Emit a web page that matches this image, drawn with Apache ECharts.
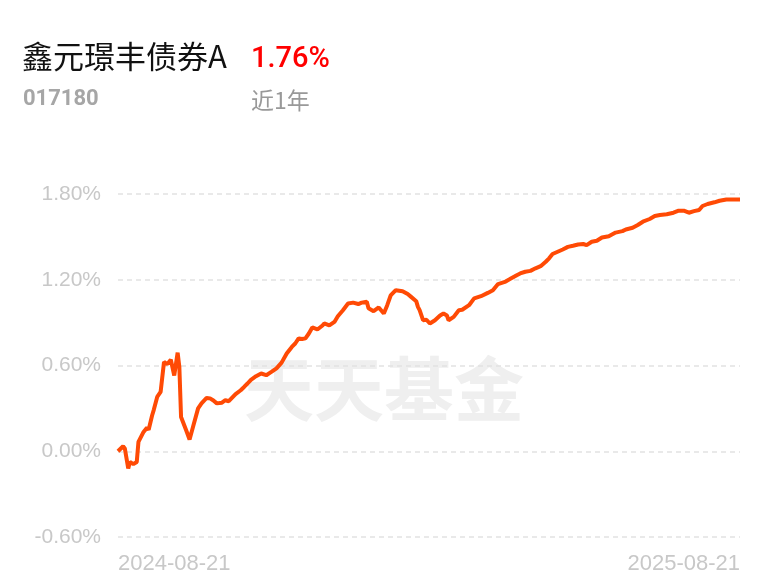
<!DOCTYPE html>
<html>
<head>
<meta charset="utf-8">
<script src="https://cdn.jsdelivr.net/npm/echarts@6/dist/echarts.min.js"></script>
<style>
html,body{margin:0;padding:0;background:#fff;}
#chart{width:768px;height:587px;}
</style>
</head>
<body>
<div id="chart"></div>
<script>
// Fund info
var fundName = '鑫元璟丰债券A';
var fundCode = '017180';
var periodReturn = '1.76%';
var periodLabel = '近1年';
var watermark = '天天基金';

// X tick labels (start / end date)
var xTickLabels = ['2024-08-21', '2025-08-21'];
var totalDays = 365;

// Days since 2024-08-21
var dayOffsets = [0,3,4,6,7,9,11,12,15,17,18,20,21,23,25,27,29,31,32,33,35,36,37,40,42,44,47,49,52,54,56,58,61,63,65,69,72,74,76,78,81,84,87,90,93,96,99,102,104,106,108,110,112,114,117,120,121,124,127,129,132,135,138,141,143,146,147,150,153,156,158,160,163,164,167,170,172,175,176,177,179,181,183,186,189,191,193,194,197,200,202,206,209,213,217,220,223,227,230,234,236,239,242,245,248,251,253,255,258,261,264,267,270,273,275,278,281,284,288,292,296,298,302,305,308,312,315,318,322,326,329,332,335,338,341,343,346,350,353,357,361,365];
// Cumulative return (%)
var returnValues = [0.00,0.035,0.02,-0.12,-0.075,-0.09,-0.075,0.065,0.135,0.165,0.15,0.25,0.29,0.38,0.415,0.625,0.61,0.64,0.635,0.53,0.69,0.59,0.24,0.147,0.082,0.17,0.30,0.335,0.373,0.37,0.355,0.335,0.34,0.357,0.35,0.40,0.427,0.45,0.474,0.50,0.525,0.544,0.532,0.555,0.58,0.62,0.684,0.73,0.754,0.79,0.785,0.79,0.824,0.866,0.852,0.88,0.894,0.88,0.905,0.945,0.987,1.034,1.04,1.03,1.04,1.046,1.00,0.98,1.006,0.964,1.022,1.09,1.127,1.115,1.12,1.10,1.08,1.05,1.01,0.987,0.917,0.92,0.894,0.917,0.95,0.964,0.95,0.917,0.94,0.987,0.99,1.022,1.07,1.085,1.108,1.127,1.17,1.185,1.205,1.232,1.244,1.256,1.262,1.28,1.295,1.326,1.35,1.38,1.396,1.412,1.43,1.438,1.447,1.45,1.442,1.466,1.473,1.496,1.505,1.53,1.54,1.552,1.564,1.583,1.606,1.625,1.646,1.653,1.658,1.669,1.683,1.683,1.669,1.68,1.688,1.716,1.73,1.742,1.753,1.762,1.762,1.762];

// Y axis ticks
var yMin = -0.6, yMax = 1.8, yStep = 0.6;

var seriesData = dayOffsets.map(function (d, i) { return [d, returnValues[i]]; });

var chart = echarts.init(document.getElementById('chart'), null, {renderer: 'canvas'});
chart.setOption({
  animation: false,
  backgroundColor: '#ffffff',
  title: [
    {text: fundName, left: 17, top: 36, textStyle: {fontSize: 31, fontWeight: 'normal', color: '#111111', fontFamily: 'Noto Sans CJK SC'}},
    {text: periodReturn, left: 246, top: 40, textStyle: {fontSize: 29, fontWeight: 500, color: '#ff0000', fontFamily: 'Roboto'}},
    {text: fundCode, left: 18, top: 83, textStyle: {fontSize: 22, fontWeight: 'bold', color: '#a6a6a6', fontFamily: 'Roboto'}},
    {text: periodLabel, left: 246, top: 84, textStyle: {fontSize: 23, fontWeight: 'normal', color: '#999999', fontFamily: 'Noto Sans CJK SC'}}
  ],
  graphic: [{
    type: 'text', left: 'center', top: 354, z: 0, silent: true,
    style: {text: watermark, fontSize: 70, fontWeight: 'bold', fill: '#efefef', fontFamily: 'Noto Sans CJK SC'}
  }],
  grid: {left: 118, right: 28, top: 194, bottom: 50, containLabel: false},
  xAxis: {
    type: 'value', min: 0, max: totalDays, interval: totalDays,
    axisLine: {show: false}, axisTick: {show: false}, splitLine: {show: false},
    axisLabel: {
      margin: 16, color: '#c8c8c8', fontSize: 22, fontFamily: 'Liberation Sans',
      alignMinLabel: 'left', alignMaxLabel: 'right',
      formatter: function (v) { return v === 0 ? xTickLabels[0] : (v === totalDays ? xTickLabels[1] : ''); }
    }
  },
  yAxis: {
    type: 'value', min: yMin, max: yMax, interval: yStep,
    axisLine: {show: false}, axisTick: {show: false},
    splitLine: {show: true, lineStyle: {color: '#e2e2e2', width: 1.5, type: [5, 4]}},
    axisLabel: {
      margin: 17, color: '#c8c8c8', fontSize: 21, fontFamily: 'Liberation Sans',
      formatter: function (v) { return (Math.round(v * 100) / 100).toFixed(2) + '%'; }
    }
  },
  series: [{
    type: 'line', data: seriesData, showSymbol: false, z: 3,
    lineStyle: {color: '#ff4a05', width: 4},
    itemStyle: {color: '#ff4a05'}
  }]
});
</script>
</body>
</html>
